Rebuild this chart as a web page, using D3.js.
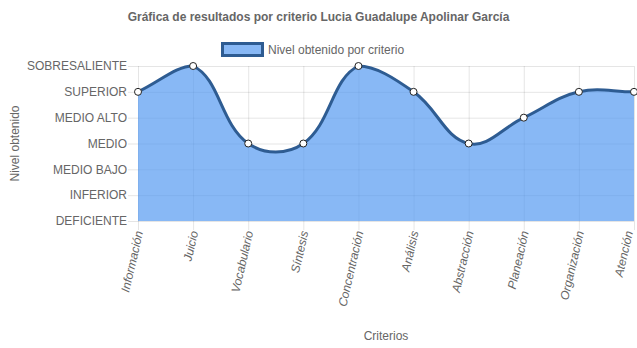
<!DOCTYPE html>
<html>
<head>
<meta charset="utf-8">
<script src="https://cdn.jsdelivr.net/npm/d3@7/dist/d3.min.js"></script>
<style>
  html, body { margin: 0; padding: 0; background: #fff; }
  svg { display: block; font-family: "Liberation Sans", Arial, sans-serif; }
</style>
</head>
<body>
<svg id="chart" width="637" height="348"></svg>
<script>
// Criteria evaluated and the level reached in each one
const criterios = ["Información", "Juicio", "Vocabulario", "Síntesis", "Concentración",
                   "Análisis", "Abstracción", "Planeación", "Organización", "Atención"];
const niveles = [5, 6, 3, 3, 6, 5, 3, 4, 5, 5];
// Level names, index = level value
const etiquetasNivel = ["DEFICIENTE", "INFERIOR", "MEDIO BAJO", "MEDIO", "MEDIO ALTO", "SUPERIOR", "SOBRESALIENTE"];

const titulo = "Gráfica de resultados por criterio Lucia Guadalupe Apolinar García";
const leyenda = "Nivel obtenido por criterio";

const W = 637, H = 348;
const area = { left: 138, right: 634, top: 66, bottom: 221 };
const textColor = "#666";
const gridColor = "rgba(0,0,0,0.1)";

const svg = d3.select("#chart");

const x = d3.scalePoint().domain(criterios).range([area.left, area.right]);
const y = d3.scaleLinear().domain([0, etiquetasNivel.length - 1]).range([area.bottom, area.top]);

// Grid: horizontal lines with tick stubs to the left
const gy = svg.append("g");
d3.range(etiquetasNivel.length).forEach(v => {
  gy.append("line")
    .attr("x1", area.left - 10).attr("x2", area.right)
    .attr("y1", y(v) + 0.5).attr("y2", y(v) + 0.5)
    .attr("stroke", gridColor).attr("stroke-width", 1);
  gy.append("text")
    .attr("x", area.left - 11).attr("y", y(v))
    .attr("dy", "0.35em").attr("text-anchor", "end")
    .attr("font-size", 12).attr("fill", textColor)
    .text(etiquetasNivel[v]);
});

// Grid: vertical lines with tick stubs below, rotated category labels
const gx = svg.append("g");
criterios.forEach(c => {
  gx.append("line")
    .attr("x1", x(c) + 0.5).attr("x2", x(c) + 0.5)
    .attr("y1", area.top).attr("y2", area.bottom + 9)
    .attr("stroke", gridColor).attr("stroke-width", 1);
  const label = gx.append("text")
    .attr("transform", `translate(${x(c) + 1},${area.bottom + 10}) rotate(-77)`)
    .attr("text-anchor", "end").attr("dy", "0.35em")
    .attr("font-size", 12).attr("font-style", "italic").attr("fill", textColor)
    .text(c);
  // keep the last label inside the canvas
  const r = label.node().getBoundingClientRect();
  const overflow = r.right - (W - 1);
  if (overflow > 0) {
    label.attr("transform", `translate(${x(c) + 1 - overflow},${area.bottom + 10}) rotate(-77)`);
  }
});

// Spline control points (tension 0.4), clamped to the plotting area
const pts = niveles.map((v, i) => ({ x: x(criterios[i]), y: y(v) }));
const tension = 0.4;
const clampX = v => Math.max(area.left, Math.min(area.right, v));
const clampY = v => Math.max(area.top, Math.min(area.bottom, v));
pts.forEach((p, i) => {
  const p0 = pts[i - 1] || p, p2 = pts[i + 1] || p;
  const d01 = Math.hypot(p.x - p0.x, p.y - p0.y);
  const d12 = Math.hypot(p2.x - p.x, p2.y - p.y);
  let s01 = d01 / (d01 + d12), s12 = d12 / (d01 + d12);
  if (!isFinite(s01)) s01 = 0;
  if (!isFinite(s12)) s12 = 0;
  const fa = tension * s01, fb = tension * s12;
  p.cpx0 = clampX(p.x - fa * (p2.x - p0.x));
  p.cpy0 = clampY(p.y - fa * (p2.y - p0.y));
  p.cpx1 = clampX(p.x + fb * (p2.x - p0.x));
  p.cpy1 = clampY(p.y + fb * (p2.y - p0.y));
});

function curvePath(closeToBase) {
  const path = d3.path();
  path.moveTo(pts[0].x, pts[0].y);
  for (let i = 1; i < pts.length; i++) {
    const a = pts[i - 1], b = pts[i];
    path.bezierCurveTo(a.cpx1, a.cpy1, b.cpx0, b.cpy0, b.x, b.y);
  }
  if (closeToBase) {
    path.lineTo(pts[pts.length - 1].x, y(0));
    path.lineTo(pts[0].x, y(0));
    path.closePath();
  }
  return path.toString();
}

svg.append("path")
  .attr("d", curvePath(true))
  .attr("fill", "rgba(80,150,240,0.68)");

svg.append("path")
  .attr("d", curvePath(false))
  .attr("fill", "none")
  .attr("stroke", "#2e5c92").attr("stroke-width", 3);

svg.append("g").selectAll("circle")
  .data(pts).join("circle")
  .attr("cx", d => d.x).attr("cy", d => d.y).attr("r", 3.5)
  .attr("fill", "#fff").attr("stroke", "#222").attr("stroke-width", 1);

// Title
svg.append("text")
  .attr("x", W / 2).attr("y", 21)
  .attr("text-anchor", "middle")
  .attr("font-size", 12).attr("font-weight", "bold").attr("fill", textColor)
  .text(titulo);

// Legend
const lg = svg.append("g");
lg.append("rect")
  .attr("x", 222.5).attr("y", 43.5).attr("width", 40).attr("height", 12)
  .attr("fill", "rgba(80,150,240,0.68)")
  .attr("stroke", "#2e5c92").attr("stroke-width", 3);
lg.append("text")
  .attr("x", 268).attr("y", 50).attr("dy", "0.35em")
  .attr("font-size", 12).attr("fill", textColor)
  .text(leyenda);

// Axis titles
svg.append("text")
  .attr("transform", `translate(15,${(area.top + area.bottom) / 2}) rotate(-90)`)
  .attr("text-anchor", "middle").attr("dy", "0.35em")
  .attr("font-size", 12).attr("fill", textColor)
  .text("Nivel obtenido");

svg.append("text")
  .attr("x", (area.left + area.right) / 2).attr("y", 336)
  .attr("text-anchor", "middle").attr("dy", "0.35em")
  .attr("font-size", 12).attr("fill", textColor)
  .text("Criterios");
</script>
</body>
</html>
